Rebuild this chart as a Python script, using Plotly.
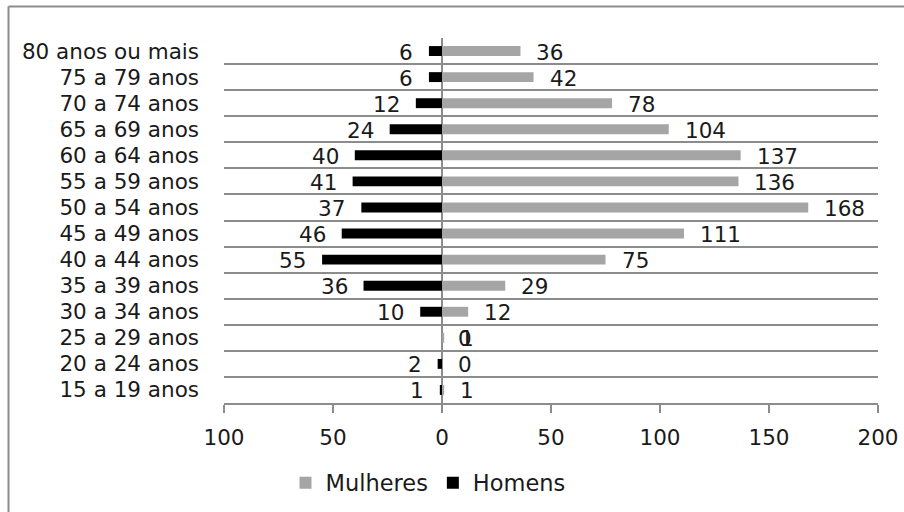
import plotly.graph_objects as go

categories = ["15 a 19 anos", "20 a 24 anos", "25 a 29 anos", "30 a 34 anos",
              "35 a 39 anos", "40 a 44 anos", "45 a 49 anos", "50 a 54 anos",
              "55 a 59 anos", "60 a 64 anos", "65 a 69 anos", "70 a 74 anos",
              "75 a 79 anos", "80 anos ou mais"]
mulheres = [1, 0, 1, 12, 29, 75, 111, 168, 136, 137, 104, 78, 42, 36]
homens = [1, 2, 0, 10, 36, 55, 46, 37, 41, 40, 24, 12, 6, 6]
tick_vals = [-100, -50, 0, 50, 100, 150, 200]
tick_text = ["100", "50", "0", "50", "100", "150", "200"]

FONT = "DejaVu Sans"
FS = 21.5
TXT = "#1a1a1a"
GRID = "#8c8c8c"

# plot-area pixel geometry (904x512 canvas)
L, R, T, B = 224, 878, 38, 403
W, H = 904, 512


def px_x(p):
    return (p - L) / (R - L)


def px_y(p):
    return (B - p) / (B - T)


fig = go.Figure()
fig.add_trace(go.Bar(
    y=categories, x=mulheres, orientation="h", name="Mulheres",
    marker=dict(color="#a5a5a5", line=dict(width=0)), width=0.38,
))
fig.add_trace(go.Bar(
    y=categories, x=[-v for v in homens], orientation="h", name="Homens",
    marker=dict(color="#000000", line=dict(width=0)), width=0.38,
))

annotations = []
for c, m, h in zip(categories, mulheres, homens):
    annotations.append(dict(x=m, y=c, xref="x", yref="y", text=str(m),
                            showarrow=False, xanchor="left", xshift=14, yshift=-1,
                            font=dict(family=FONT, size=FS, color=TXT)))
    if h > 0:
        annotations.append(dict(x=-h, y=c, xref="x", yref="y", text=str(h),
                                showarrow=False, xanchor="right", xshift=-14, yshift=-1,
                                font=dict(family=FONT, size=FS, color=TXT)))
    else:
        annotations.append(dict(x=0, y=c, xref="x", yref="y", text=str(h),
                                showarrow=False, xanchor="left", xshift=14, yshift=-1,
                                font=dict(family=FONT, size=FS, color=TXT)))

shapes = [
    dict(type="line", xref="paper", yref="paper",
         x0=px_x(8.5), x1=px_x(W + 5), y0=px_y(6.5), y1=px_y(6.5),
         line=dict(color=GRID, width=2)),
    dict(type="line", xref="paper", yref="paper",
         x0=px_x(8.5), x1=px_x(8.5), y0=px_y(6.5), y1=px_y(H + 5),
         line=dict(color=GRID, width=2)),
]

fig.update_layout(
    width=W, height=H,
    margin=dict(l=L, r=W - R, t=T, b=H - B, autoexpand=False),
    paper_bgcolor="white", plot_bgcolor="white",
    barmode="overlay",
    font=dict(family=FONT, size=FS, color=TXT),
    annotations=annotations,
    shapes=shapes,
    showlegend=True,
    legend=dict(orientation="h", x=px_x(428), y=px_y(483), xanchor="center",
                yanchor="middle", font=dict(family=FONT, size=22.5, color=TXT),
                itemwidth=30, tracegroupgap=0, traceorder="normal"),
    xaxis=dict(range=[-100, 200], tickvals=tick_vals, ticktext=tick_text,
               showgrid=False, zeroline=True, zerolinecolor=GRID, zerolinewidth=2,
               showline=True, linecolor=GRID, linewidth=2,
               ticks="outside", ticklen=8, tickwidth=2, tickcolor=GRID,
               ticklabelstandoff=6,
               tickfont=dict(family=FONT, size=FS, color=TXT), fixedrange=True),
    yaxis=dict(type="category", categoryorder="array", categoryarray=categories,
               tickmode="linear", dtick=1, tick0=0,
               tickson="boundaries", showgrid=True, gridcolor=GRID, gridwidth=2,
               showline=False, ticks="", ticklabelstandoff=24,
               range=[-0.5, len(categories) - 0.5],
               tickfont=dict(family=FONT, size=FS, color=TXT), fixedrange=True),
)

fig.write_html("out.html", config={"displayModeBar": False},
               post_script="document.body.style.margin='0';")
